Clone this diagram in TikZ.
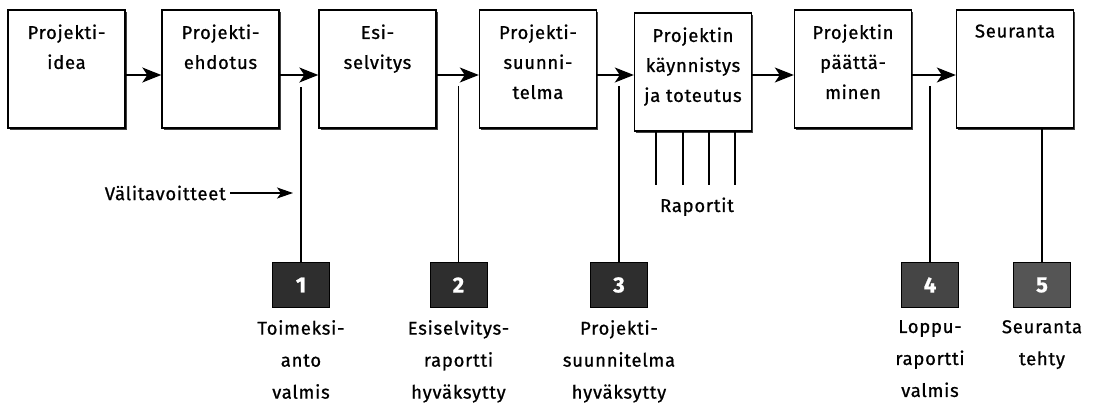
\documentclass[tikz,border=0pt]{standalone}
\usepackage{fontspec}
\setmainfont[LetterSpace=4,FakeBold=0.8]{Fira Sans}
\usetikzlibrary{arrows.meta,shadows}
\definecolor{msdark}{HTML}{2E2E2E}
\definecolor{msmid}{HTML}{454545}
\definecolor{mslight}{HTML}{555555}
\tikzset{
  phase/.style={draw=black, line width=1.4pt, fill=white, minimum width=117pt, minimum height=118pt, inner sep=0pt,
    drop shadow={shadow xshift=1.6pt, shadow yshift=-1.6pt, fill=black!75, opacity=1}},
  phasetext/.style={anchor=north, align=center, font=\fontsize{18.5}{30}\selectfont, inner sep=0pt},
  flow/.style={line width=1.5pt, -{Stealth[length=19pt, width=15pt, inset=5pt]}},
  mline/.style={line width=1.2pt},
  ms/.style={draw=black, line width=1pt, minimum width=57pt, minimum height=45pt, inner sep=0pt,
    text=white, font=\fontsize{22}{22}\selectfont\bfseries},
  mstext/.style={anchor=north, align=center, font=\fontsize{18.5}{32}\selectfont, inner sep=0pt},
  plain/.style={font=\fontsize{18.5}{20}\selectfont, inner sep=0pt}
}
\begin{document}
\begin{tikzpicture}[x=1pt,y=-1pt]
\useasboundingbox (0,0) rectangle (1101,403);
% phase boxes
\node[phase] (b1) at (66.5,69) {};
\node[phase] (b2) at (220.5,69) {};
\node[phase] (b3) at (377.5,69) {};
\node[phase] (b4) at (538,69) {};
\node[phase] (b5) at (693,72) {};
\node[phase] (b6) at (853,69) {};
\node[phase] (b7) at (1015,69) {};
\node[phasetext] at ([yshift=-15pt]b1.north) {Projekti-\\idea};
\node[phasetext] at ([yshift=-15pt]b2.north) {Projekti-\\ehdotus};
\node[phasetext] at ([yshift=-15pt]b3.north) {Esi-\\selvitys};
\node[phasetext] at ([yshift=-15pt]b4.north) {Projekti-\\suunni-\\telma};
\node[phasetext] at ([yshift=-15pt]b5.north) {Projektin\\käynnistys\\ja toteutus};
\node[phasetext] at ([yshift=-15pt]b6.north) {Projektin\\päättä-\\minen};
\node[phasetext] at ([yshift=-15pt]b7.north) {Seuranta};
% flow arrows
\foreach \a/\b in {b1/b2,b2/b3,b3/b4,b4/b5,b5/b6,b6/b7}
  \draw[flow] (\a.east |- 0,75) -- (\b.west |- 0,75);
% milestones
\node[ms, fill=msdark] (m1) at (301,285) {1};
\node[ms, fill=msdark] (m2) at (458.5,285) {2};
\node[ms, fill=msdark] (m3) at (619,285) {3};
\node[ms, fill=msmid] (m4) at (930,285) {4};
\node[ms, fill=mslight] (m5) at (1042,285) {5};
\coordinate (t1) at (301,87);
\coordinate (t2) at (458.5,86);
\coordinate (t3) at (619,86);
\coordinate (t4) at (930,86);
\draw[mline] (t1) -- (m1.north);
\draw[mline] (t2) -- (m2.north);
\draw[mline] (t3) -- (m3.north);
\draw[mline] (t4) -- (m4.north);
\draw[mline] (m5.north |- b7.south) -- (m5.north);
\node[mstext] at ([yshift=-12pt]m1.south) {Toimeksi-\\anto\\valmis};
\node[mstext] at ([yshift=-12pt]m2.south) {Esiselvitys-\\raportti\\hyväksytty};
\node[mstext] at ([yshift=-12pt]m3.south) {Projekti-\\suunnitelma\\hyväksytty};
\node[mstext] at ([yshift=-12pt]m4.south) {Loppu-\\raportti\\valmis};
\node[mstext] at ([yshift=-12pt]m5.south) {Seuranta\\tehty};
% Välitavoitteet
\node[plain, anchor=east] (vt) at (226,193) {Välitavoitteet};
\coordinate (vte) at (293,193);
\draw[line width=1.3pt, -{Stealth[length=16pt, width=11pt, inset=4pt]}] ([xshift=4pt]vt.east) -- (vte);
% reports
\foreach \x in {656,683,709,735}
  \draw[mline] (\x,0 |- b5.south) -- (\x,185);
\node[plain, anchor=base] (rap) at (697,212) {Raportit};
\end{tikzpicture}
\end{document}
